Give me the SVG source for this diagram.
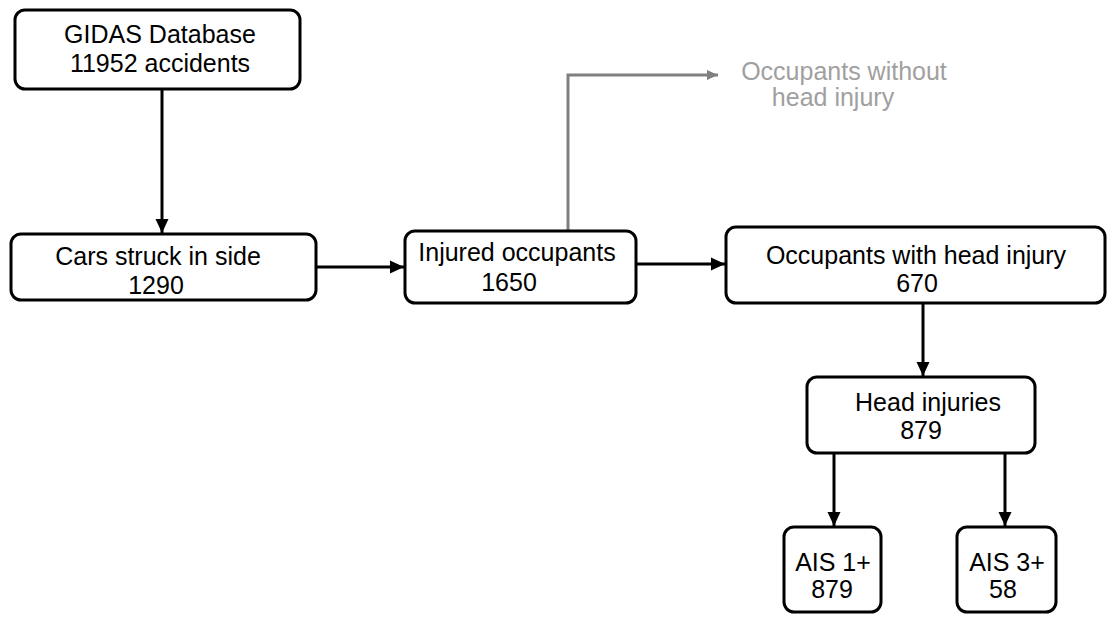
<svg xmlns="http://www.w3.org/2000/svg" width="1113" height="617" viewBox="0 0 1113 617">
<style>
.box{fill:#fff;stroke:#000;stroke-width:3}
.t{font-family:"Liberation Sans",Arial,sans-serif;font-size:25px;fill:#000;text-anchor:middle}
.g{font-family:"Liberation Sans",Arial,sans-serif;font-size:25px;fill:#a0a0a0;text-anchor:middle}
.c{fill:none;stroke:#000;stroke-width:3}
.cg{fill:none;stroke:#808080;stroke-width:3}
</style>
<defs>
<marker id="ah" markerUnits="userSpaceOnUse" markerWidth="16" markerHeight="16" viewBox="0 0 16 16" refX="14" refY="8" orient="auto"><path d="M0,1.5 L14,8 L0,14.5 Z" fill="#000"/></marker>
<marker id="ahg" markerUnits="userSpaceOnUse" markerWidth="12" markerHeight="12" viewBox="0 0 12 12" refX="11" refY="6" orient="auto"><path d="M0,1 L11,6 L0,11 Z" fill="#808080"/></marker>
</defs>
<g id="connectors">
<line class="c" x1="162" y1="89" x2="162" y2="233" marker-end="url(#ah)"/>
<line class="c" x1="316" y1="267" x2="404" y2="267" marker-end="url(#ah)"/>
<line class="c" x1="636" y1="264" x2="725" y2="264" marker-end="url(#ah)"/>
<polyline class="cg" points="568,231 568,75 718,75" marker-end="url(#ahg)"/>
<line class="c" x1="923" y1="303" x2="923" y2="376" marker-end="url(#ah)"/>
<line class="c" x1="834" y1="453" x2="834" y2="526" marker-end="url(#ah)"/>
<line class="c" x1="1005" y1="453" x2="1005" y2="526" marker-end="url(#ah)"/>
</g>
<g id="gidas">
<rect class="box" x="15" y="10" width="285" height="79" rx="10"/>
<text class="t" x="160" y="43">GIDAS Database</text>
<text class="t" x="160" y="72">11952 accidents</text>
</g>
<g id="cars">
<rect class="box" x="11" y="234" width="305" height="66" rx="10"/>
<text class="t" x="158" y="265">Cars struck in side</text>
<text class="t" x="156" y="294">1290</text>
</g>
<g id="injured">
<rect class="box" x="405" y="231" width="231" height="72" rx="10"/>
<text class="t" x="517" y="261">Injured occupants</text>
<text class="t" x="509" y="291">1650</text>
</g>
<g id="without">
<text class="g" x="844" y="80">Occupants without</text>
<text class="g" x="833" y="106">head injury</text>
</g>
<g id="withhead">
<rect class="box" x="726" y="227" width="379" height="76" rx="10"/>
<text class="t" x="916" y="264">Occupants with head injury</text>
<text class="t" x="917" y="292">670</text>
</g>
<g id="headinj">
<rect class="box" x="807" y="377" width="228" height="76" rx="10"/>
<text class="t" x="928" y="411">Head injuries</text>
<text class="t" x="921" y="439">879</text>
</g>
<g id="ais1">
<rect class="box" x="784" y="527" width="97" height="85" rx="10"/>
<text class="t" x="833" y="571">AIS 1+</text>
<text class="t" x="832" y="598">879</text>
</g>
<g id="ais3">
<rect class="box" x="957" y="527" width="99" height="85" rx="10"/>
<text class="t" x="1007" y="571">AIS 3+</text>
<text class="t" x="1003" y="598">58</text>
</g>
</svg>
